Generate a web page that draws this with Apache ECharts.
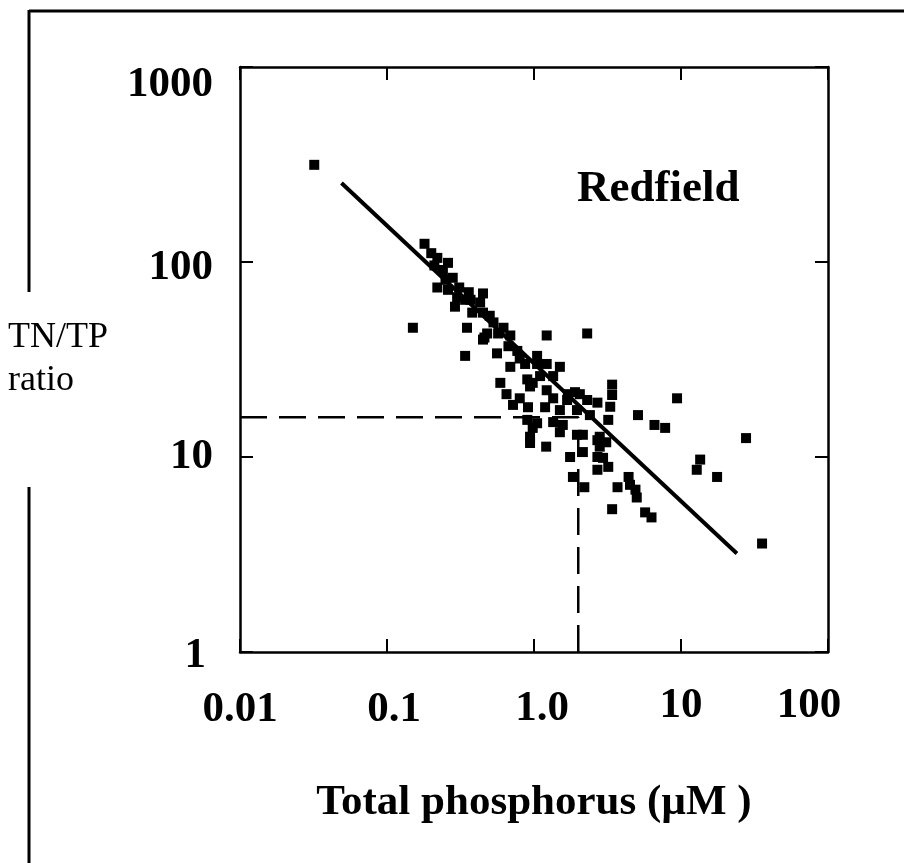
<!DOCTYPE html>
<html><head><meta charset="utf-8">
<script src="https://cdn.jsdelivr.net/npm/echarts@6/dist/echarts.min.js"></script>
<style>html,body{margin:0;padding:0;background:#fff;}#c{width:904px;height:863px;}</style>
</head><body><div id="c"></div>
<script>
// Total phosphorus (µM) of each sample
const tp = [
0.032,0.15,0.18,0.20,0.22,0.26,0.24,0.22,0.26,0.31,
0.36,0.30,0.29,0.34,0.45,0.43,0.38,0.45,0.35,0.53,
0.62,0.57,0.46,1.22,2.3,0.34,0.56,0.67,0.77,0.80,
1.05,1.05,1.22,1.5,1.35,1.1,0.90,0.59,0.65,0.94,
1.22,1.7,2.05,3.4,0.80,0.72,0.91,1.19,1.35,1.68,
1.9,2.3,2.7,1.5,1.96,2.4,0.90,1.05,1.35,1.57,
0.98,0.94,0.94,1.5,1.96,2.15,2.7,1.21,2.15,1.76,
2.7,1.84,2.7,2.2,3.4,3.3,9.4,3.2,5.1,6.6,
7.8,2.8,3.1,2.8,2.95,3.2,4.4,3.7,4.5,4.9,
5.0,3.4,5.7,6.3,13.5,12.8,17.6,27.7,35.6,0.48,
0.45,0.98,0.21,0.28,0.69,0.25,0.37,0.50,0.69,0.87
];
// TN/TP ratio of each sample
const ratio = [
315,46,124,111,105,99,91,74,72,74,
70,66,59,64,69,62,55,55,46,49,
46,43,41,42,43,33,34,37,35,32,
33,30,30,29,26,26,25,24,21,23,
22,21,21,23.5,20,18.5,18,18,20,19.6,
21.5,19.6,19,17.4,17.4,16.4,15.5,14.9,15.1,14.6,
14.1,12.7,11.8,13.4,13,13,12.2,11.3,10.6,10,
10,7.9,8.6,7.0,20.8,18.1,20,15.5,16.4,14.6,
14.1,12.7,11.9,11.3,9.9,8.9,7.9,7.0,7.2,6.8,
6.2,5.4,5.2,4.9,9.7,8.6,7.9,12.5,3.6,43,
40,24,96,83,29,81,64,53,42,30
];
// regression line end points
const fitX = [0.049, 24];
const fitY = [254, 3.2];
// Redfield reference (ratio 16, TP 2.0)
const redfieldX = [0.01, 2, 2];
const redfieldY = [16, 16, 1];
// tick labels
const xTickLabels = ['0.01', '0.1', '1.0', '10', '100'];
const yTickLabels = ['1', '10', '100', '1000'];
const xTitle = 'Total phosphorus (\u00b5M )';
const yTitle = 'TN/TP\nratio';
const noteText = 'Redfield';

const FONT = 'Liberation Serif';
const tickFont = {fontFamily: FONT, fontWeight: 'bold', fontSize: 43, lineHeight: 43, color: '#000'};
const xRich = {
  a: Object.assign({padding: [8, 0, 0, 0]}, tickFont),
  b: Object.assign({padding: [8, 0, 0, 14]}, tickFont),
  c: Object.assign({padding: [6, 0, 0, 16]}, tickFont),
  d: Object.assign({}, tickFont),
  e: Object.assign({padding: [0, 38, 0, 0]}, tickFont)
};
const xKeys = ['a', 'b', 'c', 'd', 'e'];
const yRich = {
  a: Object.assign({padding: [8, 7, 0, 0]}, tickFont),
  b: Object.assign({}, tickFont),
  c: Object.assign({padding: [11, 0, 0, 0]}, tickFont),
  d: Object.assign({padding: [36, 0, 0, 0]}, tickFont)
};
const yKeys = ['a', 'b', 'c', 'd'];

const axisLine = {show: true, lineStyle: {color: '#000', width: 2.5}};
const axisTick = {show: true, inside: true, length: 13, lineStyle: {color: '#000', width: 2}};

const chart = echarts.init(document.getElementById('c'), null, {renderer: 'canvas'});
chart.setOption({
  animation: false,
  backgroundColor: '#fff',
  grid: {left: 240, top: 67, width: 588, height: 585, containLabel: false, outerBoundsMode: 'none'},
  xAxis: [{
    type: 'log', logBase: 10, min: 0.01, max: 100, position: 'bottom',
    axisLine: axisLine, axisTick: axisTick, splitLine: {show: false}, minorTick: {show: false},
    axisLabel: {
      margin: 32, rich: xRich, fontFamily: FONT, fontWeight: 'bold', fontSize: 43,
      formatter: function (v) { const i = Math.round(Math.log10(v)) + 2; return '{' + xKeys[i] + '|' + xTickLabels[i] + '}'; }
    },
    name: xTitle, nameLocation: 'middle', nameGap: 129,
    nameTextStyle: {fontFamily: FONT, fontWeight: 'bold', fontSize: 43, lineHeight: 43, color: '#000'}
  }, {
    type: 'log', logBase: 10, min: 0.01, max: 100, position: 'top',
    axisLine: axisLine, axisTick: axisTick, axisLabel: {show: false}, splitLine: {show: false}
  }],
  yAxis: [{
    type: 'log', logBase: 10, min: 1, max: 1000, position: 'left',
    axisLine: axisLine, axisTick: axisTick, splitLine: {show: false}, minorTick: {show: false},
    axisLabel: {
      margin: 27, rich: yRich, fontFamily: FONT, fontWeight: 'bold', fontSize: 43,
      formatter: function (v) { const i = Math.round(Math.log10(v)); return '{' + yKeys[i] + '|' + yTickLabels[i] + '}'; }
    },
    name: yTitle, nameLocation: 'middle', nameRotate: 0, nameGap: 232,
    nameTextStyle: {fontFamily: FONT, fontSize: 36, lineHeight: 43, color: '#000', align: 'left', padding: [0, 0, 30, 0]}
  }, {
    type: 'log', logBase: 10, min: 1, max: 1000, position: 'right',
    axisLine: axisLine, axisTick: axisTick, axisLabel: {show: false}, splitLine: {show: false}
  }],
  graphic: [
    {type: 'line', shape: {x1: 29, y1: 11, x2: 904, y2: 11}, style: {stroke: '#000', lineWidth: 3}},
    {type: 'line', shape: {x1: 29, y1: 10, x2: 29, y2: 292}, style: {stroke: '#000', lineWidth: 3}},
    {type: 'line', shape: {x1: 29, y1: 487, x2: 29, y2: 863}, style: {stroke: '#000', lineWidth: 3}},
    {type: 'text', x: 577, y: 167, style: {text: noteText, font: 'bold 45px "Liberation Serif"', fill: '#000', textVerticalAlign: 'top'}}
  ],
  series: [
    {
      type: 'line', xAxisIndex: 0, yAxisIndex: 0, showSymbol: false, silent: true, z: 1,
      data: redfieldX.map((x, i) => [x, redfieldY[i]]),
      lineStyle: {color: '#000', width: 2.5, type: [27, 12]}
    },
    {
      type: 'line', xAxisIndex: 0, yAxisIndex: 0, showSymbol: false, silent: true, z: 2,
      data: fitX.map((x, i) => [x, fitY[i]]),
      lineStyle: {color: '#000', width: 4}
    },
    {
      type: 'scatter', xAxisIndex: 0, yAxisIndex: 0, symbol: 'rect', symbolSize: 10, z: 3,
      data: tp.map((x, i) => [x, ratio[i]]),
      itemStyle: {color: '#000', opacity: 1}
    }
  ]
});
</script>
</body></html>
